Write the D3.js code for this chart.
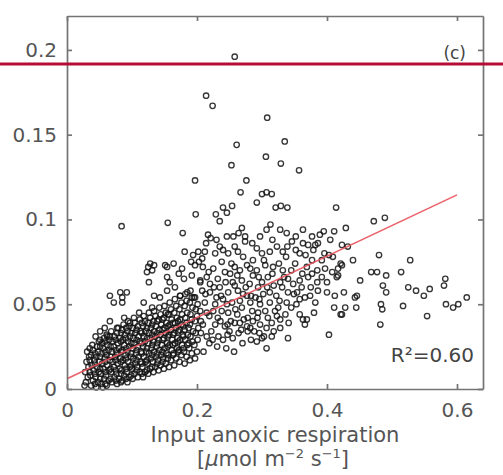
<!DOCTYPE html>
<html>
<head>
<meta charset="utf-8">
<script src="https://cdn.jsdelivr.net/npm/d3@7"></script>
<style>
  body { margin: 0; background: #fff; }
  svg { display: block; }
</style>
</head>
<body>
<script>
// axis ticks
let xTicks = [0, 0.2, 0.4, 0.6]
let xTickLabels = ['0', '0.2', '0.4', '0.6']
let yTicks = [0, 0.05, 0.1, 0.15, 0.2]
let yTickLabels = ['0', '0.05', '0.1', '0.15', '0.2']

// fitted line end points and labels
let fitX = [0, 0.6]
let fitY = [0.006, 0.1145]
let r2Label = 'R\u00b2=0.60'
let panelLabel = '(c)'

// dense cluster near the origin [respiration, value]
let clusterPts = [
  [0.029,0.004],[0.032,0.007],[0.028,0.010],[0.033,0.013],[0.030,0.016],[0.034,0.019],[0.031,0.022],[0.027,0.002],
  [0.037,0.002],[0.040,0.005],[0.036,0.008],[0.041,0.011],[0.038,0.014],[0.042,0.017],[0.037,0.020],[0.040,0.023],[0.039,0.026],
  [0.045,0.001],[0.048,0.004],[0.044,0.007],[0.049,0.010],[0.046,0.013],[0.050,0.016],[0.045,0.019],[0.048,0.022],[0.046,0.025],[0.049,0.028],
  [0.053,0.003],[0.057,0.006],[0.052,0.009],[0.056,0.012],[0.054,0.015],[0.058,0.018],[0.053,0.021],[0.056,0.024],[0.054,0.027],[0.057,0.030],[0.055,0.001],
  [0.061,0.002],[0.064,0.005],[0.060,0.008],[0.065,0.011],[0.062,0.014],[0.066,0.017],[0.061,0.020],[0.064,0.023],[0.062,0.026],[0.065,0.029],[0.061,0.032],
  [0.069,0.004],[0.073,0.007],[0.068,0.010],[0.072,0.013],[0.070,0.016],[0.074,0.019],[0.069,0.022],[0.072,0.025],[0.070,0.028],[0.073,0.031],[0.068,0.034],
  [0.077,0.003],[0.080,0.006],[0.076,0.009],[0.081,0.012],[0.078,0.015],[0.082,0.018],[0.077,0.021],[0.080,0.024],[0.078,0.027],[0.081,0.030],[0.077,0.033],[0.079,0.036],
  [0.085,0.005],[0.088,0.008],[0.084,0.011],[0.089,0.014],[0.086,0.017],[0.090,0.020],[0.085,0.023],[0.088,0.026],[0.086,0.029],[0.089,0.032],[0.085,0.035],[0.087,0.038],
  [0.093,0.004],[0.096,0.007],[0.092,0.010],[0.097,0.013],[0.094,0.016],[0.098,0.019],[0.093,0.022],[0.096,0.025],[0.094,0.028],[0.097,0.031],[0.093,0.034],[0.096,0.037],[0.094,0.040],
  [0.101,0.006],[0.104,0.009],[0.100,0.012],[0.105,0.015],[0.102,0.018],[0.106,0.021],[0.101,0.024],[0.104,0.027],[0.102,0.030],[0.105,0.033],[0.101,0.036],[0.104,0.039],
  [0.109,0.007],[0.112,0.010],[0.108,0.013],[0.113,0.016],[0.110,0.019],[0.114,0.022],[0.109,0.025],[0.112,0.028],[0.110,0.031],[0.113,0.034],[0.109,0.037],[0.112,0.041],
  [0.117,0.007],[0.120,0.010],[0.116,0.013],[0.121,0.016],[0.118,0.019],[0.122,0.022],[0.117,0.025],[0.120,0.028],[0.118,0.031],[0.121,0.034],[0.117,0.037],[0.120,0.040],[0.118,0.043],
  [0.125,0.009],[0.128,0.012],[0.124,0.015],[0.129,0.018],[0.126,0.021],[0.130,0.024],[0.125,0.027],[0.128,0.030],[0.126,0.033],[0.129,0.036],[0.125,0.039],[0.128,0.042],[0.126,0.045],
  [0.133,0.010],[0.136,0.013],[0.132,0.016],[0.137,0.019],[0.134,0.022],[0.138,0.025],[0.133,0.028],[0.136,0.031],[0.134,0.034],[0.137,0.037],[0.133,0.040],[0.136,0.043],[0.134,0.046],
  [0.141,0.011],[0.144,0.014],[0.140,0.017],[0.145,0.020],[0.142,0.023],[0.146,0.026],[0.141,0.029],[0.144,0.032],[0.142,0.035],[0.145,0.038],[0.141,0.041],[0.144,0.044],[0.142,0.048],
  [0.149,0.012],[0.152,0.015],[0.148,0.018],[0.153,0.021],[0.150,0.024],[0.154,0.027],[0.149,0.030],[0.152,0.033],[0.150,0.036],[0.153,0.039],[0.149,0.042],[0.152,0.045],[0.150,0.049],
  [0.157,0.013],[0.160,0.017],[0.156,0.020],[0.161,0.023],[0.158,0.026],[0.162,0.029],[0.157,0.032],[0.160,0.035],[0.158,0.038],[0.161,0.041],[0.157,0.044],[0.160,0.047],[0.158,0.051],
  [0.165,0.014],[0.168,0.018],[0.164,0.021],[0.169,0.024],[0.166,0.027],[0.170,0.030],[0.165,0.033],[0.168,0.036],[0.166,0.039],[0.169,0.042],[0.165,0.045],[0.168,0.049],[0.166,0.053],
  [0.173,0.016],[0.176,0.020],[0.172,0.023],[0.177,0.026],[0.174,0.029],[0.178,0.032],[0.173,0.035],[0.176,0.038],[0.174,0.041],[0.177,0.044],[0.173,0.047],[0.176,0.051],[0.174,0.055],
  [0.181,0.015],[0.184,0.019],[0.180,0.022],[0.185,0.026],[0.182,0.029],[0.186,0.032],[0.181,0.035],[0.184,0.039],[0.182,0.042],[0.185,0.045],[0.181,0.049],[0.184,0.052],[0.182,0.056],
  [0.189,0.017],[0.192,0.021],[0.188,0.024],[0.193,0.028],[0.190,0.031],[0.194,0.034],[0.189,0.038],[0.192,0.041],[0.190,0.044],[0.193,0.048],[0.189,0.051],[0.192,0.054],[0.190,0.058],
  [0.197,0.018],[0.200,0.022],[0.196,0.026],[0.201,0.029],[0.198,0.033],[0.202,0.036],[0.197,0.040],[0.200,0.043],[0.198,0.047],[0.201,0.050],[0.197,0.054]
]

// more points in between, where the cluster is nearly solid
let clusterFill = [
  [0.035,0.010],[0.035,0.017],[0.043,0.003],[0.043,0.009],[0.043,0.015],[0.043,0.021],[0.051,0.006],[0.051,0.012],[0.051,0.019],
  [0.051,0.025],[0.059,0.003],[0.059,0.010],[0.059,0.016],[0.059,0.022],[0.059,0.028],[0.067,0.006],[0.067,0.012],[0.067,0.019],
  [0.067,0.025],[0.066,0.031],[0.075,0.005],[0.075,0.011],[0.075,0.017],[0.075,0.023],[0.075,0.029],[0.083,0.004],[0.083,0.009],
  [0.083,0.016],[0.083,0.022],[0.083,0.028],[0.083,0.033],[0.091,0.006],[0.091,0.012],[0.091,0.018],[0.091,0.024],[0.091,0.030],
  [0.091,0.036],[0.099,0.008],[0.099,0.014],[0.099,0.021],[0.099,0.027],[0.099,0.033],[0.107,0.011],[0.107,0.017],[0.107,0.023],
  [0.107,0.029],[0.107,0.035],[0.115,0.009],[0.115,0.015],[0.115,0.021],[0.115,0.027],[0.115,0.033],[0.115,0.039],[0.123,0.011],
  [0.123,0.017],[0.123,0.024],[0.123,0.030],[0.123,0.036],[0.131,0.013],[0.131,0.020],[0.131,0.026],[0.131,0.032],[0.131,0.038],
  [0.139,0.015],[0.139,0.021],[0.139,0.027],[0.139,0.033],[0.139,0.040],[0.147,0.016],[0.147,0.022],[0.147,0.029],[0.147,0.035],
  [0.147,0.041],[0.155,0.018],[0.155,0.025],[0.155,0.031],[0.155,0.037],[0.155,0.044],[0.163,0.020],[0.163,0.026],[0.163,0.032],
  [0.163,0.039],[0.171,0.022],[0.171,0.028],[0.171,0.034],[0.171,0.040],[0.179,0.024],[0.179,0.031],[0.179,0.037],[0.187,0.027],
  [0.187,0.036]
]

// scattered points around the cluster and in the middle
let midPts = [
  [0.066,0.055],[0.082,0.057],[0.092,0.057],[0.085,0.054],[0.085,0.051],[0.072,0.051],[0.066,0.040],[0.035,0.024],
  [0.118,0.051],[0.134,0.055],[0.131,0.048],[0.143,0.054],[0.154,0.058],[0.166,0.060],[0.174,0.055],[0.185,0.057],[0.195,0.054],
  [0.111,0.045],[0.097,0.039],[0.088,0.042],[0.077,0.036],[0.103,0.042],[0.051,0.029],[0.062,0.031],[0.051,0.034],[0.058,0.036],[0.044,0.031],
  [0.181,0.081],[0.194,0.079],[0.202,0.081],[0.208,0.077],[0.191,0.075],[0.128,0.074],[0.134,0.073],[0.125,0.072],[0.151,0.073],
  [0.164,0.074],[0.154,0.072],[0.177,0.071],[0.197,0.073],[0.123,0.069],[0.126,0.063],[0.131,0.070],[0.154,0.066],[0.158,0.063],
  [0.172,0.068],[0.180,0.065],[0.192,0.067],[0.205,0.063],
  [0.285,0.086],[0.274,0.087],[0.346,0.087],[0.363,0.086],[0.386,0.086],[0.382,0.085],[0.405,0.088],[0.423,0.085],
  [0.212,0.081],[0.235,0.084],[0.240,0.082],[0.248,0.080],[0.228,0.080],[0.263,0.081],[0.271,0.078],[0.286,0.076],[0.300,0.080],
  [0.312,0.081],[0.323,0.084],[0.332,0.081],[0.358,0.080],[0.377,0.076],[0.392,0.076],[0.409,0.078],[0.432,0.084],
  [0.209,0.072],[0.225,0.071],[0.243,0.069],[0.258,0.072],[0.277,0.073],[0.282,0.071],[0.292,0.070],[0.305,0.073],[0.317,0.072],
  [0.332,0.070],[0.351,0.074],[0.369,0.072],[0.385,0.070],[0.397,0.071],[0.408,0.069],[0.417,0.067],
  [0.215,0.066],[0.232,0.065],[0.251,0.068],[0.255,0.063],[0.269,0.064],[0.286,0.067],[0.300,0.063],[0.309,0.066],[0.328,0.063],
  [0.340,0.065],[0.358,0.064],[0.371,0.066],[0.385,0.063],[0.400,0.063],[0.415,0.066],
  [0.208,0.058],[0.220,0.057],[0.235,0.060],[0.248,0.057],[0.263,0.058],[0.277,0.055],[0.294,0.060],[0.312,0.057],[0.331,0.060],
  [0.340,0.057],[0.354,0.057],[0.366,0.054],[0.374,0.055],[0.386,0.058],[0.400,0.057],[0.412,0.055],
  [0.212,0.051],[0.228,0.050],[0.240,0.053],[0.254,0.051],[0.269,0.048],[0.282,0.051],[0.297,0.050],[0.312,0.051],[0.325,0.048],
  [0.338,0.051],[0.358,0.053],[0.382,0.051],[0.428,0.048],
  [0.215,0.045],[0.232,0.042],[0.248,0.045],[0.262,0.044],[0.278,0.042],[0.294,0.045],[0.309,0.042],[0.328,0.041],[0.369,0.041],
  [0.209,0.038],[0.228,0.038],[0.243,0.037],[0.258,0.039],[0.277,0.037],[0.297,0.038],[0.315,0.039],[0.328,0.036],
  [0.215,0.031],[0.231,0.025],[0.255,0.030],[0.278,0.034],[0.300,0.030],
  [0.220,0.062],[0.238,0.075],[0.262,0.067],[0.290,0.054],[0.318,0.061],[0.345,0.070],[0.205,0.046],[0.222,0.034],[0.238,0.046],
  [0.252,0.040],[0.266,0.052],[0.285,0.046],[0.302,0.056],[0.320,0.046],[0.336,0.044],[0.348,0.062],[0.362,0.068],[0.375,0.060],
  [0.392,0.066],[0.219,0.027],[0.240,0.029],[0.264,0.033],[0.288,0.034],[0.210,0.022],[0.245,0.024],[0.270,0.027],[0.292,0.028],
  [0.205,0.064],[0.230,0.054],[0.258,0.061],[0.275,0.060],[0.305,0.046],[0.322,0.055],[0.345,0.048],[0.272,0.041],[0.250,0.034],
  [0.233,0.031],[0.286,0.040],[0.318,0.034],[0.257,0.022],
  [0.203,0.075],[0.218,0.069],[0.226,0.060],[0.244,0.063],[0.253,0.074],[0.266,0.070],[0.281,0.062],[0.295,0.066],[0.303,0.076],
  [0.316,0.068],[0.326,0.074],[0.337,0.078],[0.352,0.082],[0.367,0.079],[0.379,0.082],[0.396,0.080],[0.213,0.056],[0.225,0.046],
  [0.237,0.055],[0.246,0.050],[0.259,0.047],[0.271,0.056],[0.283,0.055],[0.296,0.053],[0.308,0.060],[0.327,0.052],[0.334,0.066],
  [0.349,0.056],[0.361,0.060],[0.377,0.068],[0.206,0.040],[0.219,0.043],[0.236,0.040],[0.247,0.038],[0.266,0.039],[0.282,0.036],
  [0.293,0.042],[0.307,0.036],[0.323,0.043],[0.341,0.039],[0.353,0.050],[0.206,0.033],[0.224,0.029],[0.247,0.032],[0.268,0.035],
  [0.283,0.029],[0.296,0.033],[0.214,0.086],[0.230,0.088],[0.258,0.084],[0.292,0.083],[0.316,0.088],[0.339,0.084],[0.264,0.092],
  [0.297,0.090],[0.352,0.090],[0.371,0.085]
]

// sparse points at the top and on the right
let outerPts = [
  [0.258,0.196],[0.214,0.173],[0.224,0.167],[0.261,0.144],[0.253,0.132],[0.197,0.123],[0.276,0.123],[0.267,0.116],[0.254,0.108],
  [0.240,0.107],[0.246,0.104],[0.229,0.103],[0.198,0.103],[0.235,0.099],[0.155,0.098],[0.084,0.096],[0.269,0.095],[0.178,0.092],
  [0.217,0.091],[0.246,0.090],[0.256,0.090],[0.274,0.090],[0.221,0.089],
  [0.308,0.160],[0.335,0.146],[0.306,0.137],[0.329,0.133],[0.357,0.129],[0.300,0.115],[0.307,0.116],[0.315,0.115],[0.292,0.110],
  [0.321,0.107],[0.329,0.108],[0.339,0.107],[0.414,0.107],[0.472,0.099],[0.489,0.101],[0.313,0.097],[0.307,0.094],[0.328,0.094],
  [0.338,0.092],[0.363,0.094],[0.377,0.090],[0.389,0.091],[0.395,0.093],[0.411,0.093],[0.429,0.095],
  [0.423,0.073],[0.417,0.071],[0.440,0.076],[0.480,0.079],[0.528,0.076],[0.468,0.069],[0.477,0.069],[0.491,0.067],[0.514,0.069],
  [0.451,0.064],[0.486,0.061],[0.491,0.057],[0.582,0.065],[0.580,0.061],[0.525,0.060],[0.537,0.058],[0.558,0.059],[0.549,0.055],
  [0.426,0.057],[0.446,0.055],[0.443,0.054],[0.445,0.048],[0.483,0.050],[0.485,0.047],[0.517,0.049],[0.583,0.050],[0.594,0.048],
  [0.602,0.050],[0.615,0.054],[0.554,0.043],[0.482,0.038],[0.423,0.044],
  [0.403,0.079],[0.421,0.074],[0.403,0.032],[0.340,0.030],[0.307,0.024],[0.303,0.031],[0.315,0.031],[0.411,0.048],[0.421,0.044],
  [0.380,0.045],[0.358,0.044],[0.366,0.038],[0.363,0.041]
]

let font = 'DejaVu Sans, sans-serif'
let width = 503
let height = 475
let plotLeft = 67, plotRight = 483, plotTop = 16, plotBottom = 389

let x = d3.scaleLinear().domain([0, 0.64]).range([plotLeft, plotRight])
let y = d3.scaleLinear().domain([0, 0.22]).range([plotBottom, plotTop])

let svg = d3.select('body').append('svg')
  .attr('width', width)
  .attr('height', height)

let allPts = outerPts.concat(midPts, clusterPts, clusterFill)

svg.append('g').selectAll('circle')
  .data(allPts)
  .enter().append('circle')
  .attr('cx', d => x(d[0]))
  .attr('cy', d => y(d[1]))
  .attr('r', 2.7)
  .attr('fill', 'none')
  .attr('stroke', '#141414')
  .attr('stroke-width', 1.35)
  .attr('stroke-opacity', 0.85)

// regression line
svg.append('line')
  .attr('x1', x(fitX[0])).attr('y1', y(fitY[0]))
  .attr('x2', x(fitX[1])).attr('y2', y(fitY[1]))
  .attr('stroke', '#e8505a')
  .attr('stroke-width', 1.6)
  .attr('stroke-opacity', 0.9)

// frame with inward ticks
let styleAxis = (g) => {
  g.attr('font-family', font).attr('font-size', 20)
  g.selectAll('.domain, .tick line').attr('stroke', '#747474').attr('stroke-width', 1.7)
  g.selectAll('.tick text').attr('fill', '#555')
}

svg.append('g').attr('transform', 'translate(0,' + plotBottom + ')')
  .call(d3.axisBottom(x).tickValues(xTicks).tickFormat((d, i) => xTickLabels[i])
    .tickSizeInner(-5).tickSizeOuter(0).tickPadding(14))
  .call(styleAxis)
svg.append('g').attr('transform', 'translate(0,' + plotTop + ')')
  .call(d3.axisTop(x).tickValues(xTicks).tickFormat('').tickSizeInner(-5).tickSizeOuter(0))
  .call(styleAxis)
svg.append('g').attr('transform', 'translate(' + plotLeft + ',0)')
  .call(d3.axisLeft(y).tickValues(yTicks).tickFormat((d, i) => yTickLabels[i])
    .tickSizeInner(-5).tickSizeOuter(0).tickPadding(10))
  .call(styleAxis)
svg.append('g').attr('transform', 'translate(' + plotRight + ',0)')
  .call(d3.axisRight(y).tickValues(yTicks).tickFormat('').tickSizeInner(-5).tickSizeOuter(0))
  .call(styleAxis)

// labels
svg.append('text')
  .attr('x', 466).attr('y', 59)
  .attr('text-anchor', 'end')
  .attr('font-family', font).attr('font-size', 17)
  .attr('fill', '#444')
  .text(panelLabel)

svg.append('text')
  .attr('x', 474).attr('y', 362)
  .attr('text-anchor', 'end')
  .attr('font-family', font).attr('font-size', 20)
  .attr('fill', '#444')
  .text(r2Label)

svg.append('text')
  .attr('x', 275).attr('y', 442)
  .attr('text-anchor', 'middle')
  .attr('font-family', font).attr('font-size', 21)
  .attr('fill', '#555')
  .text('Input anoxic respiration')

let unit = svg.append('text')
  .attr('x', 273).attr('y', 466)
  .attr('text-anchor', 'middle')
  .attr('font-family', font).attr('font-size', 21)
  .attr('fill', '#555')
unit.append('tspan').text('[')
unit.append('tspan').attr('font-style', 'italic').text('\u03bc')
unit.append('tspan').text('mol m')
unit.append('tspan').attr('font-size', 13).attr('dy', -8).text('\u22122')
unit.append('tspan').attr('dy', 8).text(' s')
unit.append('tspan').attr('font-size', 13).attr('dy', -8).text('\u22121')
unit.append('tspan').attr('dy', 8).text(']')

// horizontal marker rule across the figure
svg.append('line')
  .attr('x1', 0).attr('x2', width)
  .attr('y1', 64).attr('y2', 64)
  .attr('stroke', '#b50d35')
  .attr('stroke-width', 3)
</script>
</body>
</html>
